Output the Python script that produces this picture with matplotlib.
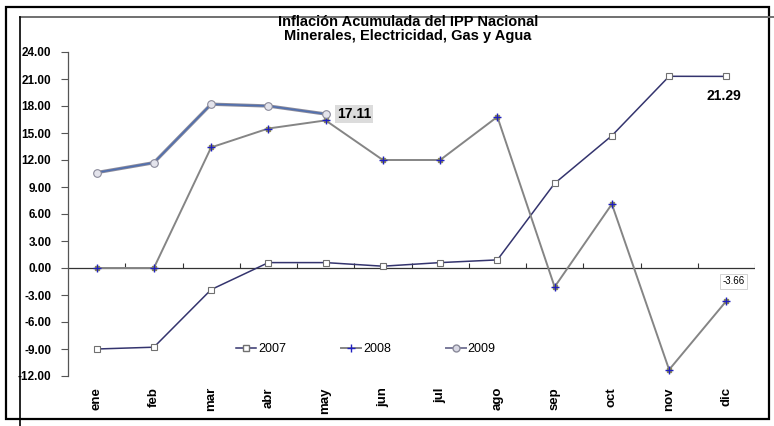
import numpy as np
import matplotlib.pyplot as plt
from matplotlib.patches import Rectangle
from matplotlib.lines import Line2D

plt.rcParams['font.family'] = ['Liberation Sans', 'DejaVu Sans']

meses = ['ene', 'feb', 'mar', 'abr', 'may', 'jun', 'jul', 'ago', 'sep', 'oct', 'nov', 'dic']
v2007 = [-9.0, -8.8, -2.4, 0.6, 0.6, 0.2, 0.6, 0.9, 9.4, 14.7, 21.3, 21.29]
v2008 = [0.0, 0.0, 13.4, 15.5, 16.4, 12.0, 12.0, 16.8, -2.1, 7.1, -11.3, -3.66]
v2009 = [10.6, 11.7, 18.2, 18.0, 17.11]
yticks = np.arange(-12, 25, 3)

fig = plt.figure(figsize=(7.74, 4.26), dpi=100)
ax = fig.add_axes([68/774, 1-376/426, (755-68)/774, (376-52)/426])

x = np.arange(len(meses))

# 2007
ax.plot(x, v2007, color='#34346e', lw=1.1, marker='s', ms=5,
        mfc='white', mec='#707070', mew=0.8, zorder=3)
# 2008
ax.plot(x, v2008, color='#858585', lw=1.4, marker='s', ms=3.5,
        mfc='#8a8a55', mec='#8a8a55', zorder=3)
ax.plot(x, v2008, ls='none', marker='+', ms=6, mec='#2020c0', mew=1.0, zorder=4)
# 2009
x9 = np.arange(len(v2009))
ax.plot(x9, v2009, color='#8a8a9a', lw=2.4, zorder=3)
ax.plot(x9, v2009, color='#4f6fb0', lw=1.1, marker='o', ms=5.5,
        mfc='#e4e4ec', mec='#8a8a9a', mew=0.8, zorder=4)

ax.set_xlim(-0.5, len(meses) - 0.5)
ax.set_ylim(-12, 24)
ax.set_yticks(yticks)
ax.set_yticklabels(['%.2f' % t for t in yticks], fontsize=8.5, fontweight='bold')
ax.set_xticks(x)
ax.set_xticklabels(meses, rotation=90, fontsize=9.5, fontweight='bold')
ax.tick_params(axis='x', length=0, pad=8)
ax.tick_params(axis='y', length=5, width=0.8, color='#555555', pad=7)
for s in ['top', 'right', 'bottom']:
    ax.spines[s].set_visible(False)
ax.spines['left'].set_color('#555555')
ax.spines['left'].set_linewidth(0.9)

# zero line with category ticks
ax.axhline(0, color='#333333', lw=0.9, zorder=2)
ax.vlines(np.arange(0.5, len(meses)), 0, 0.6, color='#333333', lw=0.8, zorder=2)

# data labels
ax.annotate('%.2f' % v2009[-1], xy=(x9[-1], v2009[-1]), xytext=(8, 0),
            textcoords='offset points', fontsize=10, fontweight='bold', va='center',
            bbox=dict(boxstyle='square,pad=0.15', fc='#dcdcdc', ec='none'))
ax.annotate('%.2f' % v2007[-1], xy=(x[-1], v2007[-1]), xytext=(-2, -14),
            textcoords='offset points', fontsize=10, fontweight='bold',
            ha='center', va='center')
ax.annotate('%.2f' % v2008[-1], xy=(x[-1], v2008[-1]), xytext=(5, 14),
            textcoords='offset points', fontsize=7,
            ha='center', va='center',
            bbox=dict(boxstyle='square,pad=0.25', fc='white', ec='#cccccc', lw=0.6))

# legend
handles = [
    Line2D([], [], color='#34346e', lw=1.1, marker='s', ms=5, mfc='white', mec='#707070'),
    Line2D([], [], color='#858585', lw=1.4, marker='+', ms=6, mec='#2020c0'),
    Line2D([], [], color='#7a7a9a', lw=1.4, marker='o', ms=5, mfc='#d8d8e4', mec='#8a8a9a'),
]
ax.legend(handles, ['2007', '2008', '2009'], ncol=3, frameon=False, fontsize=9,
          loc='center', bbox_to_anchor=((366-68)/687, (376-349)/324),
          handlelength=1.6, handletextpad=0.15, columnspacing=4.4)

fig.text(0.527, 1-22/426, 'Inflación Acumulada del IPP Nacional', ha='center', va='center',
         fontsize=10.5, fontweight='bold')
fig.text(0.527, 1-36/426, 'Minerales, Electricidad, Gas y Agua', ha='center', va='center',
         fontsize=10.5, fontweight='bold')

# frames
fig.add_artist(Rectangle((6/774, 1-419/426), (769-6)/774, (419-7)/426,
                         transform=fig.transFigure, fill=False, ec='black', lw=1.6))
fig.add_artist(Line2D([20/774, 1], [1-17/426, 1-17/426], transform=fig.transFigure,
                      color='#707070', lw=1.4))
fig.add_artist(Line2D([20/774, 20/774], [1-17/426, 0], transform=fig.transFigure,
                      color='black', lw=1.2))

fig.savefig('out.png', dpi=100)
